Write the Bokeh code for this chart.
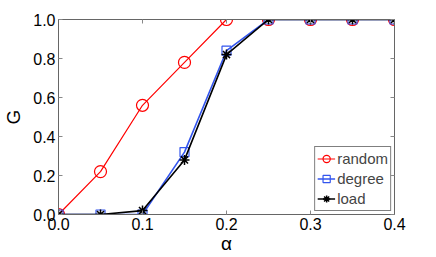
from bokeh.plotting import figure
from bokeh.models import (LinearAxis, NumeralTickFormatter, FixedTicker, Range1d, Legend,
                          LegendItem, CustomLabelingPolicy)
from bokeh.embed import file_html
from bokeh.resources import INLINE

alpha = [0.0, 0.05, 0.1, 0.15, 0.2, 0.25, 0.3, 0.35, 0.4]
g_random = [0.0, 0.22, 0.56, 0.78, 1.0, 1.0, 1.0, 1.0, 1.0]
g_degree = [0.0, 0.0, 0.0, 0.32, 0.84, 1.0, 1.0, 1.0, 1.0]
g_load = [0.0, 0.0, 0.02, 0.28, 0.82, 1.0, 1.0, 1.0, 1.0]
x_ticks = [0.0, 0.1, 0.2, 0.3, 0.4]
y_ticks = [0.0, 0.2, 0.4, 0.6, 0.8, 1.0]

FONT = "Liberation Sans"

p = figure(width=436, height=257, output_backend="svg", toolbar_location=None,
           x_range=Range1d(0, 0.4), y_range=Range1d(0, 1.0),
           min_border_left=57, min_border_right=42, min_border_top=19, min_border_bottom=43,
           x_axis_label="α", y_axis_label="G")
p.grid.visible = False
p.outline_line_color = "#666666"

for ax, ticks in ((p.xaxis[0], x_ticks), (p.yaxis[0], y_ticks)):
    ax.ticker = FixedTicker(ticks=ticks)
    ax.formatter = NumeralTickFormatter(format="0.0")
    ax.major_tick_in = 4
    ax.major_tick_out = 0
    ax.minor_tick_line_color = None
    ax.axis_line_color = "#666666"
    ax.major_tick_line_color = "#888888"
    ax.major_label_text_font = FONT
    ax.major_label_text_font_size = "16px"
    ax.major_label_text_color = "black"
    ax.axis_label_text_font = FONT
    ax.axis_label_text_font_size = "19px"
    ax.axis_label_text_font_style = "normal"
    ax.axis_label_text_color = "black"
p.xaxis[0].major_label_standoff = 3
p.yaxis[0].major_label_standoff = 3
p.xaxis[0].axis_label_standoff = 0
p.yaxis[0].axis_label_standoff = 6

hide_all = CustomLabelingPolicy(code="const all = [...indices]; for (const i of all) indices.unset(i); return indices")
for loc, ticks in (("above", x_ticks), ("right", y_ticks)):
    a = LinearAxis(ticker=FixedTicker(ticks=ticks), major_tick_in=4, major_tick_out=0,
                   minor_tick_line_color=None, major_label_policy=hide_all,
                   major_label_standoff=0,
                   axis_line_color="#666666", major_tick_line_color="#888888")
    p.add_layout(a, loc)

lr = p.line(alpha, g_random, line_color="red", line_width=1.2)
mr = p.scatter(alpha, g_random, marker="circle", size=12, fill_color=None, line_color="red", line_width=1.2)
ld = p.line(alpha, g_degree, line_color="#3355ee", line_width=1.6)
md = p.scatter(alpha, g_degree, marker="square", size=9, fill_color=None, line_color="#3355ee", line_width=1.2)
ll = p.line(alpha, g_load, line_color="black", line_width=1.6)
ml = p.scatter(alpha, g_load, marker="asterisk", size=10, line_color="black", line_width=1.5)

legend = Legend(items=[LegendItem(label="random", renderers=[lr, mr]),
                       LegendItem(label="degree", renderers=[ld, md]),
                       LegendItem(label="load", renderers=[ll, ml])],
                location="bottom_right")
legend.border_line_color = "black"
legend.label_text_font = FONT
legend.label_text_font_size = "15px"
legend.label_standoff = 2
legend.glyph_width = 18
legend.glyph_height = 19
legend.spacing = 1
legend.padding = 2
legend.margin = 3
legend.label_height = 19
p.add_layout(legend)

open("out.html", "w").write(file_html(p, INLINE))
